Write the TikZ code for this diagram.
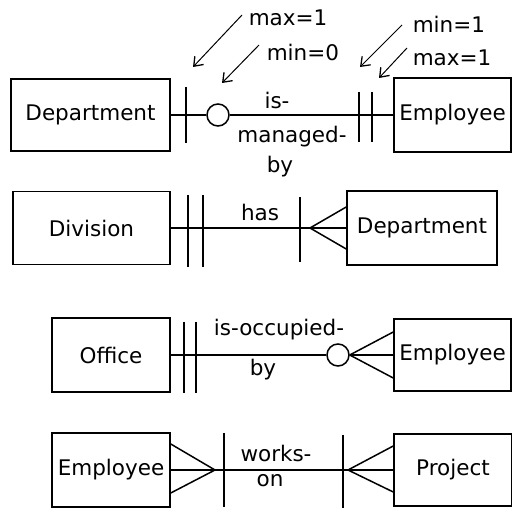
\documentclass[tikz,border=0pt]{standalone}
\usepackage{fontspec}
\setmainfont{DejaVu Sans}
\usetikzlibrary{arrows.meta,calc}
\begin{document}
\begin{tikzpicture}[x=1pt,y=-1pt,line width=1.5pt,
  ent/.style={draw,inner sep=0pt,font=\fontsize{21.5}{24}\selectfont},
  lbl/.style={inner sep=0pt,font=\fontsize{21.5}{24}\selectfont},
  ring/.style={circle,draw,fill=white,minimum size=22pt,inner sep=0pt},
  annot/.style={line width=1pt,-{Straight Barb[length=8pt,width=12pt,line width=1.3pt]}}]
\useasboundingbox (0,0) rectangle (512,510);
% Row 1
\node[ent,minimum width=159pt,minimum height=72pt] (dep1) at (90.5,115) {Department};
\node[ent,minimum width=117pt,minimum height=74pt] (emp1) at (452.5,115) {Employee};
\node[ring] (c1) at (218,115) {};
\draw (dep1.east) -- (c1.west);
\draw (c1.east) -- (emp1.west);
\coordinate (b1) at (186,115);
\coordinate (b2) at (359,115);
\coordinate (b3) at (372,115);
\draw ($(b1)+(0,-28)$) -- ($(b1)+(0,28)$);
\draw ($(b2)+(0,-23)$) -- ($(b2)+(0,27)$);
\draw ($(b3)+(0,-23)$) -- ($(b3)+(0,27)$);
\node[lbl] (l1a) at (277,100) {is-};
\node[lbl] (l1b) at (292,137) {managed-};
\node[lbl] (l1c) at (280,167) {by};
% annotations
\node[lbl,anchor=west] (t1) at (248,18) {max=1};
\node[lbl,anchor=west] (t2) at (266,52) {min=0};
\node[lbl,anchor=west] (t3) at (412,24) {min=1};
\node[lbl,anchor=west] (t4) at (412,58) {max=1};
\coordinate (a1s) at (242,15); \coordinate (a1e) at (193,67);
\coordinate (a2s) at (259,45); \coordinate (a2e) at (222,83);
\coordinate (a3s) at (402,25); \coordinate (a3e) at (360,67);
\coordinate (a4s) at (407,48); \coordinate (a4e) at (379,78);
\draw[annot] (a1s) -- (a1e);
\draw[annot] (a2s) -- (a2e);
\draw[annot] (a3s) -- (a3e);
\draw[annot] (a4s) -- (a4e);
% Row 2
\node[ent,minimum width=157pt,minimum height=73pt] (div) at (91.5,228) {Division};
\node[ent,minimum width=150pt,minimum height=74pt] (dep2) at (422,228) {Department};
\draw (div.east) -- (dep2.west);
\coordinate (b4) at (188,228);
\coordinate (b5) at (203,228);
\coordinate (b6) at (300,228);
\draw ($(b4)+(0,-33)$) -- ($(b4)+(0,39)$);
\draw ($(b5)+(0,-33)$) -- ($(b5)+(0,39)$);
\draw ($(b6)+(0,-31)$) -- ($(b6)+(0,34)$);
\coordinate (f1) at (310,228);
\draw (f1) -- ($(dep2.west)+(0,-21)$);
\draw (f1) -- ($(dep2.west)+(0,21)$);
\node[lbl] (l2) at (260,212) {has};
% Row 3
\node[ent,minimum width=118pt,minimum height=74pt] (off) at (111,355) {Office};
\node[ent,minimum width=117pt,minimum height=72pt] (emp3) at (452.5,355) {Employee};
\node[ring] (c2) at (338,355) {};
\draw (off.east) -- (c2.west);
\draw (c2.east) -- (emp3.west);
\draw (c2.east) -- ($(emp3.west)+(0,-23)$);
\draw (c2.east) -- ($(emp3.west)+(0,23)$);
\coordinate (b7) at (184,355);
\coordinate (b8) at (196,355);
\draw ($(b7)+(0,-33)$) -- ($(b7)+(0,38)$);
\draw ($(b8)+(0,-33)$) -- ($(b8)+(0,38)$);
\node[lbl] (l3a) at (279,330) {is-occupied-};
\node[lbl] (l3b) at (263,370) {by};
% Row 4
\node[ent,minimum width=118pt,minimum height=74pt] (emp4) at (111,470) {Employee};
\node[ent,minimum width=118pt,minimum height=72pt] (proj) at (453,470) {Project};
\draw (emp4.east) -- (proj.west);
\coordinate (f2) at (215,470);
\coordinate (f3) at (348,470);
\draw ($(emp4.east)+(0,-26)$) -- (f2) -- ($(emp4.east)+(0,23)$);
\draw ($(proj.west)+(0,-24)$) -- (f3) -- ($(proj.west)+(0,22)$);
\coordinate (b9) at (224,470);
\coordinate (b10) at (343,470);
\draw ($(b9)+(0,-37)$) -- ($(b9)+(0,37)$);
\draw ($(b10)+(0,-35)$) -- ($(b10)+(0,38)$);
\node[lbl] (l4a) at (276,453) {works-};
\node[lbl] (l4b) at (270,481) {on};
\end{tikzpicture}
\end{document}
